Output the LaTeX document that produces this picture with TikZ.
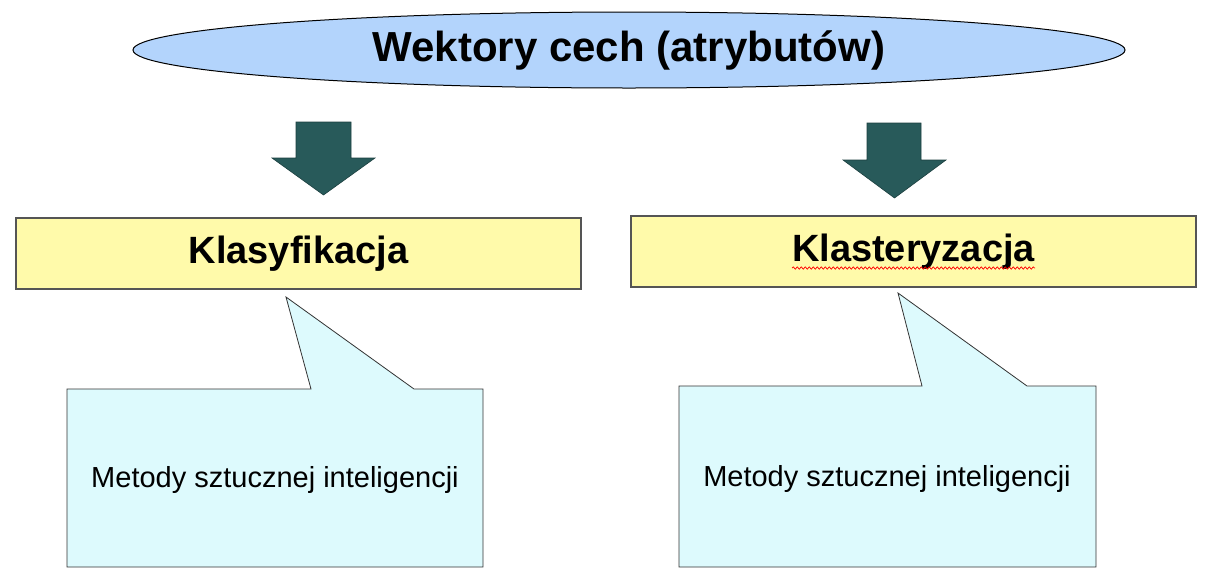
\documentclass[tikz,border=0pt]{standalone}
\usepackage{fontspec}
\setmainfont{Liberation Sans}
\usetikzlibrary{shapes.geometric,decorations.pathmorphing}
\definecolor{ellfill}{RGB}{179,212,252}
\definecolor{boxfill}{RGB}{255,250,170}
\definecolor{callfill}{RGB}{221,250,253}
\definecolor{arrfill}{RGB}{40,90,90}
\definecolor{boxline}{RGB}{85,85,85}
\tikzset{
  titleell/.style={ellipse, draw=black, line width=1pt, fill=ellfill, minimum width=992pt, minimum height=76pt, inner sep=0pt, font=\fontsize{42}{48}\selectfont\bfseries},
  catbox/.style={rectangle, draw=boxline, line width=1.3pt, fill=boxfill, minimum width=565pt, minimum height=71pt, inner sep=0pt, font=\fontsize{38}{44}\selectfont\bfseries},
  blockarrow/.style={fill=arrfill, draw=arrfill!70!black, line width=0.6pt},
  callout/.style={fill=callfill, draw=black!80, line width=0.8pt},
  calltext/.style={font=\fontsize{29}{34}\selectfont, inner sep=0pt},
  spell/.style={draw=red, line width=0.7pt, decorate, decoration={snake, amplitude=1.2pt, segment length=4pt}}
}
\begin{document}
\begin{tikzpicture}[x=1pt,y=-1pt]
\useasboundingbox (0,0) rectangle (1214,584);
% title
\node[titleell] (title) at (629,50) {Wektory cech (atrybutów)};
% block arrows
\draw[blockarrow] (296,122) -- (351,122) -- (351,158) -- (375,158) -- (323.5,195) -- (272,158) -- (296,158) -- cycle;
\draw[blockarrow] (867,123) -- (921,123) -- (921,160) -- (946,160) -- (894.5,198) -- (843,160) -- (867,160) -- cycle;
% category boxes
\node[catbox] (klas) at (298.5,253.5) {Klasyfikacja};
\node[catbox] (klast) at (913.5,251.5) {Klasteryzacja};
\coordinate (wl) at (792,268);
\coordinate (wr) at (1035,268);
\draw[spell] (wl) -- (wr);
% callouts
\draw[callout] (67,389) -- (311,389) -- (286,297) -- (414,389) -- (483,389) -- (483,567) -- (67,567) -- cycle;
\node[calltext] (m1) at (275,480) {Metody sztucznej inteligencji};
\draw[callout] (679,386) -- (922,386) -- (898,293) -- (1027,386) -- (1096,386) -- (1096,567) -- (679,567) -- cycle;
\node[calltext] (m2) at (887,479) {Metody sztucznej inteligencji};
\end{tikzpicture}
\end{document}
